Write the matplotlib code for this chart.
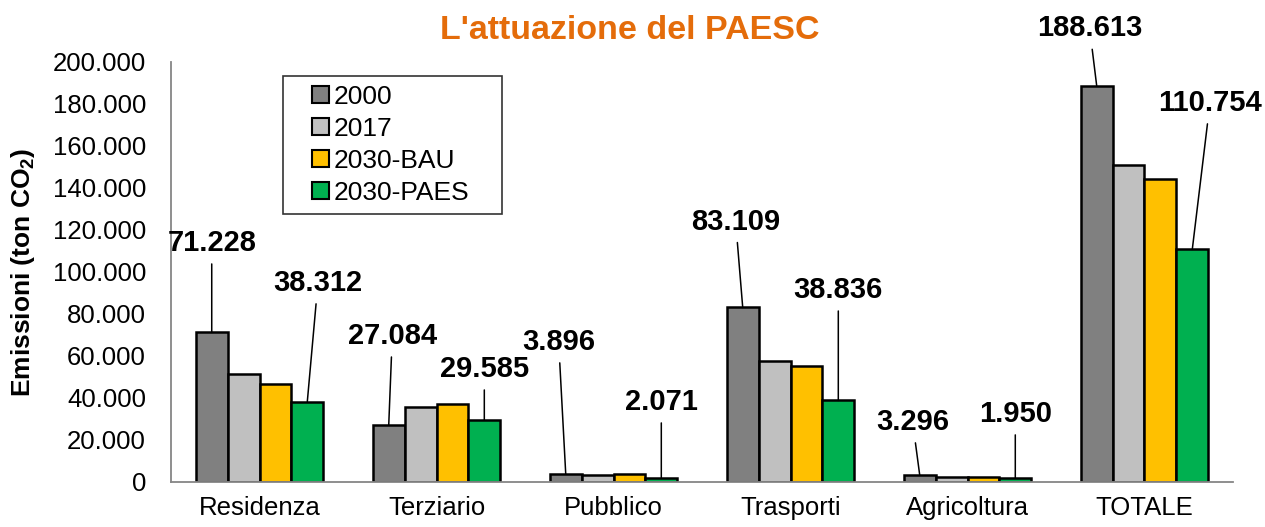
import matplotlib.pyplot as plt
from matplotlib.ticker import FuncFormatter
from matplotlib.patches import Patch, Rectangle
from matplotlib.legend_handler import HandlerPatch

plt.rcParams['font.family'] = ['Liberation Sans', 'DejaVu Sans']
plt.rcParams['mathtext.fontset'] = 'custom'
plt.rcParams['mathtext.bf'] = 'Liberation Sans:bold'

# dati emissioni (ton CO2)
settori = ["Residenza", "Terziario", "Pubblico", "Trasporti", "Agricoltura", "TOTALE"]
anni = ["2000", "2017", "2030-BAU", "2030-PAES"]
em_2000 = [71228, 27084, 3896, 83109, 3296, 188613]
em_2017 = [51400, 35600, 3500, 57600, 2200, 151000]
em_bau = [46700, 37100, 3600, 55400, 2300, 144300]
em_paes = [38312, 29585, 2071, 38836, 1950, 110754]
serie = [em_2000, em_2017, em_bau, em_paes]
colori = ["#808080", "#C0C0C0", "#FFC000", "#00B050"]

# posizione delle etichette (spostamento x rispetto alla barra, quota y)
etich_2000 = [(0.0, 113800), (0.02, 69500), (-0.04, 66700), (-0.04, 124000), (-0.04, 28600), (-0.04, 216000)]
etich_paes = [(0.06, 94800), (0.0, 53800), (0.0, 38100), (0.0, 91400), (0.0, 32400), (0.10, 180500)]

fig = plt.figure(figsize=(12.65, 5.27), dpi=100)
ax = fig.add_axes([0.1352, 0.0854, 0.8395, 0.797])

larg = 0.18
for k, (valori, col, nome) in enumerate(zip(serie, colori, anni)):
    xs = [i + (k - 1.5) * larg for i in range(len(settori))]
    ax.bar(xs, valori, width=larg, color=col, edgecolor="black", linewidth=1.8,
           label=nome, zorder=3)

def etichetta(i, k, valore, pos):
    xb = i + (k - 1.5) * larg
    testo = f"{valore:,}".replace(",", ".")
    ax.annotate(testo, xy=(xb, valore), xytext=(xb + pos[0], pos[1]),
                textcoords="data", ha="center", va="center",
                fontsize=21, fontweight="bold", annotation_clip=False,
                arrowprops=dict(arrowstyle="-", color="black", lw=1.1,
                                shrinkA=3, shrinkB=0), zorder=5)

for i in range(len(settori)):
    etichetta(i, 0, em_2000[i], etich_2000[i])
    etichetta(i, 3, em_paes[i], etich_paes[i])

ax.set_xlim(-0.5, len(settori) - 0.5)
ax.set_ylim(0, 200000)
ax.set_yticks(range(0, 200001, 20000))
ax.yaxis.set_major_formatter(FuncFormatter(lambda v, p: f"{int(v):,}".replace(",", ".")))
ax.set_xticks(range(len(settori)))
ax.set_xticklabels(settori)
ax.tick_params(axis="x", length=0, pad=10, labelsize=18.5)
ax.tick_params(axis="y", length=0, pad=18, labelsize=18.5)

for lato in ["top", "right"]:
    ax.spines[lato].set_visible(False)
for lato in ["left", "bottom"]:
    ax.spines[lato].set_color("#868686")
    ax.spines[lato].set_linewidth(1.3)
    ax.spines[lato].set_zorder(4)

ax.set_ylabel(r"Emissioni (ton CO$_\mathbf{2}$)", fontsize=19, fontweight="bold")
ax.yaxis.set_label_coords(-0.126, 0.5)

fig.text(0.498, 0.943, "L'attuazione del PAESC", color="#E46C0A", fontsize=24.5,
         fontweight="bold", ha="center", va="center")

# legenda: quadratino allineato a destra nello spazio del simbolo
def quadrato(legend, orig_handle, xdescent, ydescent, width, height, fontsize):
    return Rectangle((-xdescent + width - height, -ydescent), height, height)

simboli = [Patch(facecolor=c, edgecolor="black", linewidth=1.5) for c in colori]
leg = ax.legend(simboli, anni, loc="upper left", mode="expand",
                bbox_to_anchor=(0.1055, 0.0, 0.206, 0.967), fontsize=19,
                handlelength=1.4, handleheight=0.6, handletextpad=0.15,
                labelspacing=0.3, borderpad=0.35, borderaxespad=0,
                frameon=True, fancybox=False,
                handler_map={Patch: HandlerPatch(patch_func=quadrato)})
leg.get_frame().set_edgecolor("black")
leg.get_frame().set_linewidth(1.2)

plt.savefig("out.png", dpi=100)
